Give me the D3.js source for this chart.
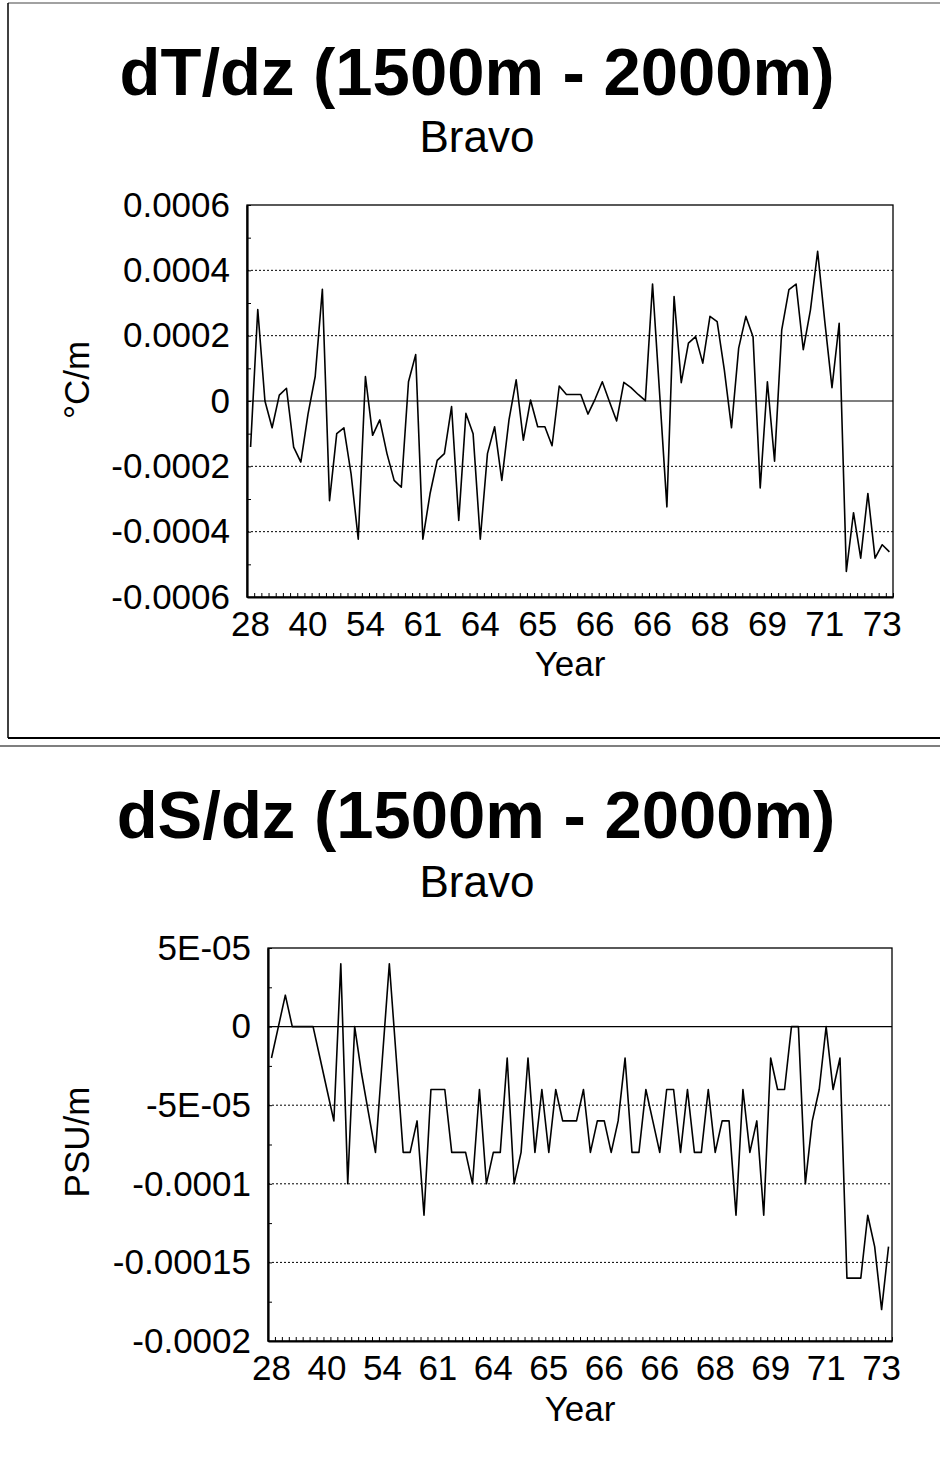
<!DOCTYPE html>
<html><head><meta charset="utf-8">
<script src="https://cdn.jsdelivr.net/npm/d3@7"></script>
<style>
body{margin:0;background:#fff}
text{font-family:"Liberation Sans",Arial,Helvetica,sans-serif;fill:#000}
</style>
</head><body>
<svg id="c" width="940" height="1476"></svg>
<script>
// ---------- data ----------
const xTickLabels = ["28","40","54","61","64","65","66","66","68","69","71","73"];

const dTdz = [
 -0.000141, 0.00028, 0, -0.000082, 0.000018, 0.000039, -0.000141, -0.000187, -0.00004, 0.000075,
  0.000342, -0.000305, -0.0001, -0.000082, -0.000223, -0.000423, 0.000075, -0.000105, -0.000058, -0.000161,
 -0.000243, -0.000264, 0.000059, 0.000142, -0.000423, -0.000284, -0.000182, -0.000161, -0.000017, -0.000366,
 -0.000038, -0.0001, -0.000423, -0.000161, -0.000079, -0.000243, -0.000058, 0.000065, -0.00012, 0.000003,
 -0.000079, -0.000079, -0.000137, 0.000046, 0.00002, 0.00002, 0.00002, -0.00004, 0.000006, 0.000059,
 -0.000002, -0.000061, 0.000057, 0.000041, 0.00002, 0.000001, 0.000358, 0.000018, -0.000324, 0.00032,
  0.000056, 0.000177, 0.000197, 0.000116, 0.000259, 0.000243, 0.000095, -0.000082, 0.000162, 0.000259,
  0.000197, -0.000266, 0.000059, -0.000184, 0.000218, 0.000341, 0.000358, 0.000157, 0.000279, 0.000458,
  0.000243, 0.000041, 0.000238, -0.000522, -0.000342, -0.000481, -0.000283, -0.000481, -0.00044, -0.000462
];

const dSdz = [
 -0.00002, 0, 0.00002, 0, 0, 0, 0, -0.00002, -0.00004, -0.00006,
  0.00004, -0.0001, 0, -0.00003, -0.000055, -0.00008, -0.00002, 0.00004, -0.00002, -0.00008,
 -0.00008, -0.00006, -0.00012, -0.00004, -0.00004, -0.00004, -0.00008, -0.00008, -0.00008, -0.0001,
 -0.00004, -0.0001, -0.00008, -0.00008, -0.00002, -0.0001, -0.00008, -0.00002, -0.00008, -0.00004,
 -0.00008, -0.00004, -0.00006, -0.00006, -0.00006, -0.00004, -0.00008, -0.00006, -0.00006, -0.00008,
 -0.00006, -0.00002, -0.00008, -0.00008, -0.00004, -0.00006, -0.00008, -0.00004, -0.00004, -0.00008,
 -0.00004, -0.00008, -0.00008, -0.00004, -0.00008, -0.00006, -0.00006, -0.00012, -0.00004, -0.00008,
 -0.00006, -0.00012, -0.00002, -0.00004, -0.00004, 0, 0, -0.0001, -0.00006, -0.00004,
  0, -0.00004, -0.00002, -0.00016, -0.00016, -0.00016, -0.00012, -0.00014, -0.00018, -0.00014
];

const tTicks = [0.0006, 0.0004, 0.0002, 0, -0.0002, -0.0004, -0.0006];
const tTickLabels = ["0.0006","0.0004","0.0002","0","-0.0002","-0.0004","-0.0006"];
const tMinor = [0.0005, 0.0003, 0.0001, -0.0001, -0.0003, -0.0005];

const sTicks = [0.00005, 0, -0.00005, -0.0001, -0.00015, -0.0002];
const sTickLabels = ["5E-05","0","-5E-05","-0.0001","-0.00015","-0.0002"];
const sMinor = [0.000025, -0.000025, -0.000075, -0.000125, -0.000175];

// ---------- drawing ----------
const svg = d3.select("#c");

// outer frame around the upper chart
const fr = svg.append("g").attr("stroke","#000").attr("fill","none");
fr.append("line").attr("x1",8).attr("x2",940).attr("y1",3).attr("y2",3).attr("stroke","#444").attr("stroke-width",1.2);
fr.append("line").attr("x1",8).attr("x2",8).attr("y1",3).attr("y2",738).attr("stroke-width",1.5);
fr.append("line").attr("x1",8).attr("x2",940).attr("y1",738).attr("y2",738).attr("stroke-width",2);
fr.append("line").attr("x1",0).attr("x2",940).attr("y1",746).attr("y2",746).attr("stroke-width",1.2);

function panel(o){
  const g = svg.append("g");
  const x = d3.scaleBand().domain(d3.range(o.values.length)).range([o.x0,o.x1]);
  const xEdge = d3.scaleLinear().domain([0,o.values.length]).range([o.x0,o.x1]);
  const y = d3.scaleLinear().domain(o.domain).range([o.y1,o.y0]);

  // titles
  g.append("text").attr("x",o.titleX).attr("y",o.titleY).attr("text-anchor","middle")
   .attr("font-size",67).attr("font-weight","bold").text(o.title);
  g.append("text").attr("x",477).attr("y",o.subY).attr("text-anchor","middle")
   .attr("font-size",44).text("Bravo");

  // gridlines
  g.append("g").selectAll("line").data(o.ticks.filter(t=>t!==0 && t>o.domain[0] && t<o.domain[1]))
   .join("line").attr("x1",o.x0).attr("x2",o.x1).attr("y1",d=>y(d)).attr("y2",d=>y(d))
   .attr("stroke","#000").attr("stroke-width",1).attr("stroke-dasharray","2,2");
  g.append("line").attr("x1",o.x0).attr("x2",o.x1).attr("y1",y(0)).attr("y2",y(0))
   .attr("stroke","#000").attr("stroke-width",1.2);

  // frame
  g.append("rect").attr("x",o.x0).attr("y",o.y0).attr("width",o.x1-o.x0).attr("height",o.y1-o.y0)
   .attr("fill","none").attr("stroke","#000").attr("stroke-width",1.3);

  // y axis
  const ya = g.append("g").attr("transform",`translate(${o.x0},0)`)
    .call(d3.axisLeft(y).tickValues(o.ticks).tickFormat((d,i)=>o.tickLabels[i]).tickSize(0).tickPadding(17));
  ya.select(".domain").attr("stroke-width",2.2);
  ya.selectAll("text").attr("font-size",35).attr("font-family",null);
  g.append("g").attr("transform",`translate(${o.x0},0)`)
    .call(d3.axisLeft(y).tickValues(o.ticks.concat(o.minor)).tickFormat("").tickSize(-4).tickSizeOuter(0))
    .call(s=>s.select(".domain").remove());

  // x axis
  const xa = g.append("g").attr("transform",`translate(0,${o.y1})`)
    .call(d3.axisBottom(x).tickValues(d3.range(0,o.values.length,8)).tickFormat((d,i)=>xTickLabels[i]).tickSize(0).tickPadding(14));
  xa.select(".domain").attr("stroke-width",2);
  xa.selectAll("text").attr("font-size",35).attr("font-family",null);
  g.append("g").attr("transform",`translate(0,${o.y1})`)
    .call(d3.axisBottom(xEdge).tickValues(d3.range(o.values.length+1)).tickFormat("").tickSize(-4).tickSizeOuter(0))
    .call(s=>s.select(".domain").remove());

  g.append("text").attr("x",(o.x0+o.x1)/2).attr("y",o.yearY).attr("text-anchor","middle")
   .attr("font-size",35).text("Year");
  g.append("text").attr("transform",`translate(${o.ylabX},${o.ylabY}) rotate(-90)`)
   .attr("text-anchor","middle").attr("font-size",35).text(o.ylab);

  // series
  const line = d3.line().x((d,i)=>x(i)+x.bandwidth()/2).y(d=>y(d));
  g.append("path").datum(o.values).attr("d",line).attr("fill","none")
   .attr("stroke","#000").attr("stroke-width",1.6).attr("stroke-linejoin","round");
}

panel({title:"dT/dz (1500m - 2000m)", titleX:477, titleY:95, subY:152,
  values:dTdz, domain:[-0.0006,0.0006], ticks:tTicks, tickLabels:tTickLabels, minor:tMinor,
  x0:247, x1:893, y0:205, y1:597, yearY:676, ylab:"°C/m", ylabX:89, ylabY:380});

panel({title:"dS/dz (1500m - 2000m)", titleX:476, titleY:838, subY:897,
  values:dSdz, domain:[-0.0002,0.00005], ticks:sTicks, tickLabels:sTickLabels, minor:sMinor,
  x0:268, x1:892, y0:948, y1:1341, yearY:1421, ylab:"PSU/m", ylabX:89, ylabY:1142});
</script>
</body></html>
